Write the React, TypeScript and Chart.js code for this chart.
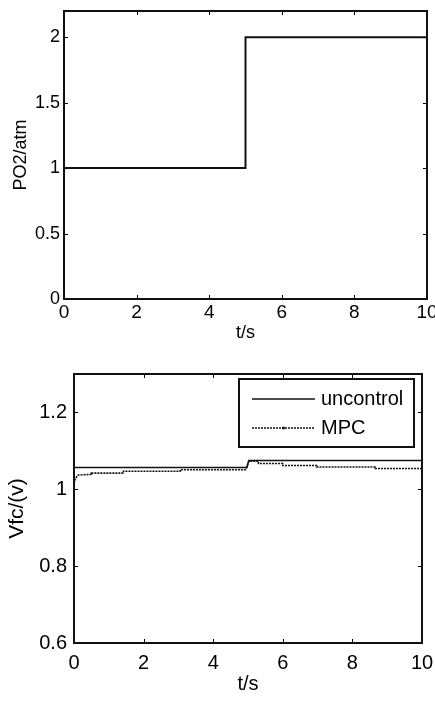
import React, { useEffect, useRef } from "react";
import { Chart, registerables } from "chart.js";

Chart.register(...registerables);

const FONT = "'Liberation Sans', Arial, Helvetica, sans-serif";

// ---- data ----
const timeTicks = [0, 2, 4, 6, 8, 10];
const pO2Ticks = [0, 0.5, 1, 1.5, 2];
const vfcTicks = [0.6, 0.8, 1, 1.2];

const pO2Time = [0, 5, 10];
const pO2Values = [1, 2, 2];

const uncontrolTime = [0, 4.97, 5.02, 10];
const uncontrolValues = [1.057, 1.057, 1.075, 1.075];

const mpcTime = [0, 0.04, 0.12, 0.5, 0.5, 1.42, 1.42, 3.05, 3.05, 4.93, 5.03, 5.3, 5.3, 6.0, 6.0, 6.97, 6.97, 8.65, 8.65, 10];
const mpcValues = [1.015, 1.028, 1.037, 1.039, 1.042, 1.042, 1.047, 1.047, 1.051, 1.051, 1.073, 1.073, 1.067, 1.067, 1.062, 1.062, 1.058, 1.058, 1.054, 1.054];

const toPoints = (xs: number[], ys: number[]) => xs.map((x, i) => ({ x, y: ys[i] }));

const framePlugin = {
  id: "matlabFrame",
  afterDraw(chart: any) {
    const { ctx, chartArea: a, scales } = chart;
    const tl = 4;
    ctx.save();
    ctx.strokeStyle = "#000";
    ctx.lineWidth = 1;
    ctx.beginPath();
    for (const t of scales.x.ticks) {
      const px = Math.round(scales.x.getPixelForValue(t.value)) + 0.5;
      ctx.moveTo(px, a.bottom);
      ctx.lineTo(px, a.bottom - tl);
      ctx.moveTo(px, a.top);
      ctx.lineTo(px, a.top + tl);
    }
    for (const t of scales.y.ticks) {
      const py = Math.round(scales.y.getPixelForValue(t.value)) + 0.5;
      ctx.moveTo(a.left, py);
      ctx.lineTo(a.left + tl, py);
      ctx.moveTo(a.right, py);
      ctx.lineTo(a.right - tl, py);
    }
    ctx.stroke();
    ctx.lineWidth = 2;
    ctx.strokeStyle = "#111";
    ctx.strokeRect(a.left, a.top, a.right - a.left, a.bottom - a.top);
    ctx.restore();
  },
};

const boxLegendPlugin = {
  id: "boxLegend",
  afterDraw(chart: any, _args: any, opts: any) {
    if (!opts || !opts.show) return;
    const { ctx } = chart;
    const { left, top, right, bottom, lineStart, lineEnd, textX, rows, fontSize } = opts;
    ctx.save();
    ctx.fillStyle = "#fff";
    ctx.fillRect(left, top, right - left, bottom - top);
    ctx.lineWidth = 2;
    ctx.strokeStyle = "#111";
    ctx.strokeRect(left, top, right - left, bottom - top);
    chart.data.datasets.forEach((ds: any, i: number) => {
      const y = rows[i];
      ctx.beginPath();
      ctx.setLineDash(ds.borderDash || []);
      ctx.lineWidth = ds.borderWidth;
      ctx.strokeStyle = ds.borderColor;
      ctx.moveTo(lineStart, y);
      ctx.lineTo(lineEnd, y);
      ctx.stroke();
      ctx.setLineDash([]);
      if (ds.legendMarker) {
        ctx.fillStyle = ds.borderColor;
        ctx.beginPath();
        ctx.arc((lineStart + lineEnd) / 2, y, 1.5, 0, Math.PI * 2);
        ctx.fill();
      }
      ctx.fillStyle = "#000";
      ctx.font = `${fontSize}px ${FONT}`;
      ctx.textAlign = "left";
      ctx.textBaseline = "middle";
      ctx.fillText(ds.label, textX, y);
    });
    ctx.restore();
  },
};

const fmt = (v: any) => String(Number(v));

function makeOptions(cfg: any) {
  return {
    responsive: false,
    animation: false,
    events: [],
    layout: { padding: cfg.padding },
    plugins: {
      legend: { display: false },
      tooltip: { enabled: false },
      boxLegend: cfg.legend || { show: false },
    },
    scales: {
      x: {
        type: "linear",
        min: 0,
        max: 10,
        afterBuildTicks: (s: any) => {
          s.ticks = timeTicks.map((v) => ({ value: v }));
        },
        afterFit: (s: any) => {
          s.height = cfg.xHeight;
          s.paddingLeft = 0;
          s.paddingRight = 0;
        },
        grid: { display: false, drawTicks: false, tickLength: 0 },
        border: { display: false },
        ticks: {
          color: "#000",
          padding: cfg.xTickPad,
          maxRotation: 0,
          autoSkip: false,
          callback: fmt,
          font: { family: FONT, size: cfg.xTickSize },
        },
        title: {
          display: true,
          text: "t/s",
          color: "#000",
          padding: { top: 0, bottom: cfg.xTitlePad },
          font: { family: FONT, size: cfg.xTitleSize },
        },
      },
      y: {
        type: "linear",
        min: cfg.yMin,
        max: cfg.yMax,
        afterBuildTicks: (s: any) => {
          s.ticks = cfg.yTicks.map((v: number) => ({ value: v }));
        },
        afterFit: (s: any) => {
          s.width = cfg.yWidth;
          s.paddingTop = 0;
          s.paddingBottom = 0;
        },
        grid: { display: false, drawTicks: false, tickLength: 0 },
        border: { display: false },
        ticks: {
          color: "#000",
          padding: cfg.yTickPad,
          autoSkip: false,
          callback: fmt,
          font: { family: FONT, size: cfg.yTickSize },
        },
        title: {
          display: true,
          text: cfg.yTitle,
          color: "#000",
          padding: { top: cfg.yTitlePad, bottom: 0 },
          font: { family: FONT, size: cfg.yTitleSize },
        },
      },
    },
  };
}

function PO2Chart() {
  const ref = useRef<HTMLCanvasElement>(null);
  useEffect(() => {
    const chart = new Chart(ref.current as HTMLCanvasElement, {
      type: "line",
      data: {
        datasets: [
          {
            label: "PO2",
            data: toPoints(pO2Time, pO2Values),
            stepped: "before",
            borderColor: "#111",
            borderWidth: 2,
            pointRadius: 0,
            fill: false,
          },
        ],
      },
      options: makeOptions({
        padding: { top: 11, right: 8, left: 0, bottom: 0 },
        xHeight: 51,
        xTickPad: 2,
        xTickSize: 19,
        xTitlePad: 6,
        xTitleSize: 18,
        yMin: 0,
        yMax: 2.2,
        yTicks: pO2Ticks,
        yWidth: 64,
        yTickPad: 4,
        yTickSize: 18,
        yTitle: "PO2/atm",
        yTitlePad: 10,
        yTitleSize: 18,
      }) as any,
      plugins: [framePlugin, boxLegendPlugin],
    });
    return () => chart.destroy();
  }, []);
  return <canvas ref={ref} width={435} height={350} style={{ display: "block" }} />;
}

function VfcChart() {
  const ref = useRef<HTMLCanvasElement>(null);
  useEffect(() => {
    const chart = new Chart(ref.current as HTMLCanvasElement, {
      type: "line",
      data: {
        datasets: [
          {
            label: "uncontrol",
            data: toPoints(uncontrolTime, uncontrolValues),
            borderColor: "#111",
            borderWidth: 1.5,
            pointRadius: 0,
            fill: false,
          },
          {
            label: "MPC",
            data: toPoints(mpcTime, mpcValues),
            borderColor: "#111",
            borderWidth: 1.6,
            borderDash: [2, 1],
            pointRadius: 0,
            fill: false,
            legendMarker: true,
          } as any,
        ],
      },
      options: makeOptions({
        padding: { top: 24, right: 13, left: 0, bottom: 0 },
        xHeight: 58,
        xTickPad: 8,
        xTickSize: 20,
        xTitlePad: 5,
        xTitleSize: 20,
        yMin: 0.6,
        yMax: 1.3,
        yTicks: vfcTicks,
        yWidth: 74,
        yTickPad: 7,
        yTickSize: 20,
        yTitle: "Vfc/(v)",
        yTitlePad: 5,
        yTitleSize: 21,
        legend: {
          show: true,
          left: 239,
          top: 29,
          right: 414,
          bottom: 97,
          lineStart: 252,
          lineEnd: 315,
          textX: 321,
          rows: [49, 78],
          fontSize: 20,
        },
      }) as any,
      plugins: [framePlugin, boxLegendPlugin],
    });
    return () => chart.destroy();
  }, []);
  return <canvas ref={ref} width={435} height={351} style={{ display: "block" }} />;
}

export default function App() {
  return (
    <div style={{ position: "absolute", left: 0, top: 0, width: 435, height: 701, background: "#fff" }}>
      <PO2Chart />
      <VfcChart />
    </div>
  );
}
